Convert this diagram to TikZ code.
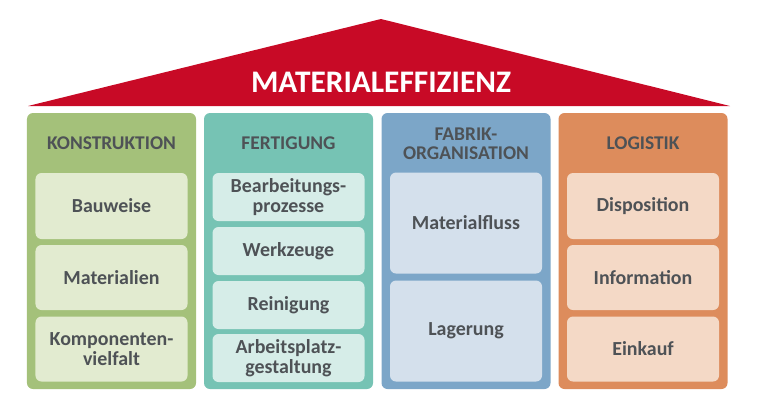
\documentclass[tikz,border=0pt]{standalone}
\usepackage{fontspec}
\setmainfont{Carlito}
\definecolor{roofred}{RGB}{200,10,38}
\definecolor{textgray}{RGB}{78,82,86}
\definecolor{kgreen}{RGB}{164,193,122}
\definecolor{kgreenlt}{RGB}{226,235,208}
\definecolor{fteal}{RGB}{118,195,180}
\definecolor{ftealt}{RGB}{214,237,232}
\definecolor{oblue}{RGB}{124,166,200}
\definecolor{obluelt}{RGB}{212,224,236}
\definecolor{lorange}{RGB}{221,140,92}
\definecolor{lorangelt}{RGB}{244,217,198}
\tikzset{
	pillar/.style={rounded corners=6bp, minimum width=169bp, minimum height=276bp, inner sep=0pt},
	item/.style={rounded corners=6bp, minimum width=152bp, inner sep=0pt, align=center, text=textgray, font=\fontsize{20}{20.5}\selectfont\bfseries},
	header/.style={align=center, text=textgray, font=\fontsize{19.5}{19.5}\selectfont\bfseries}
}

\begin{document}
\begin{tikzpicture}[x=1bp, y=-1bp]
		%%%%% START %%%%%
		\useasboundingbox (0, 0) rectangle (762, 414);
		
		% roof
		\fill[roofred] (28, 106) -- (381, 19) -- (730, 106) -- cycle;
		\node[text=white, font=\fontsize{31.5}{30}\selectfont\bfseries] (title) at (381, 82) {MATERIALEFFIZIENZ};
		
		% pillars
		\node[pillar, fill=kgreen] (konstruktion) at (111.5, 251) {};
		\node[pillar, fill=fteal] (fertigung) at (288.5, 251) {};
		\node[pillar, fill=oblue] (fabrik) at (466, 251) {};
		\node[pillar, fill=lorange] (logistik) at (643, 251) {};
		
		\node[header] (konstruktionhead) at (111.5, 143) {KONSTRUKTION};
		\node[header] (fertigunghead) at (288.5, 143) {FERTIGUNG};
		\node[header] (fabrikhead) at (466, 144) {FABRIK-\\ORGANISATION};
		\node[header] (logistikhead) at (643, 143) {LOGISTIK};
		
		% konstruktion
		\node[item, fill=kgreenlt, minimum height=66bp] (bauweise) at (111.5, 206) {Bauweise};
		\node[item, fill=kgreenlt, minimum height=65bp] (materialien) at (111.5, 277.5) {Materialien};
		\node[item, fill=kgreenlt, minimum height=65bp] (komponenten) at (111.5, 349) {Komponenten-\\vielfalt};
		
		% fertigung
		\node[item, fill=ftealt, minimum height=48bp] (bearbeitung) at (288.5, 197) {Bearbeitungs-\\prozesse};
		\node[item, fill=ftealt, minimum height=48bp] (werkzeuge) at (288.5, 251) {Werkzeuge};
		\node[item, fill=ftealt, minimum height=48bp] (reinigung) at (288.5, 305) {Reinigung};
		\node[item, fill=ftealt, minimum height=48bp] (arbeitsplatz) at (288.5, 358) {Arbeitsplatz-\\gestaltung};
		
		% fabrikorganisation
		\node[item, fill=obluelt, minimum height=101bp] (materialfluss) at (466, 223) {Materialfluss};
		\node[item, fill=obluelt, minimum height=101bp] (lagerung) at (466, 331) {Lagerung};
		
		% logistik
		\node[item, fill=lorangelt, minimum height=66bp] (disposition) at (643, 206) {Disposition};
		\node[item, fill=lorangelt, minimum height=65bp] (information) at (643, 277.5) {Information};
		\node[item, fill=lorangelt, minimum height=65bp] (einkauf) at (643, 349) {Einkauf};
		
		%%%%% END %%%%%
	\end{tikzpicture}
\end{document}
